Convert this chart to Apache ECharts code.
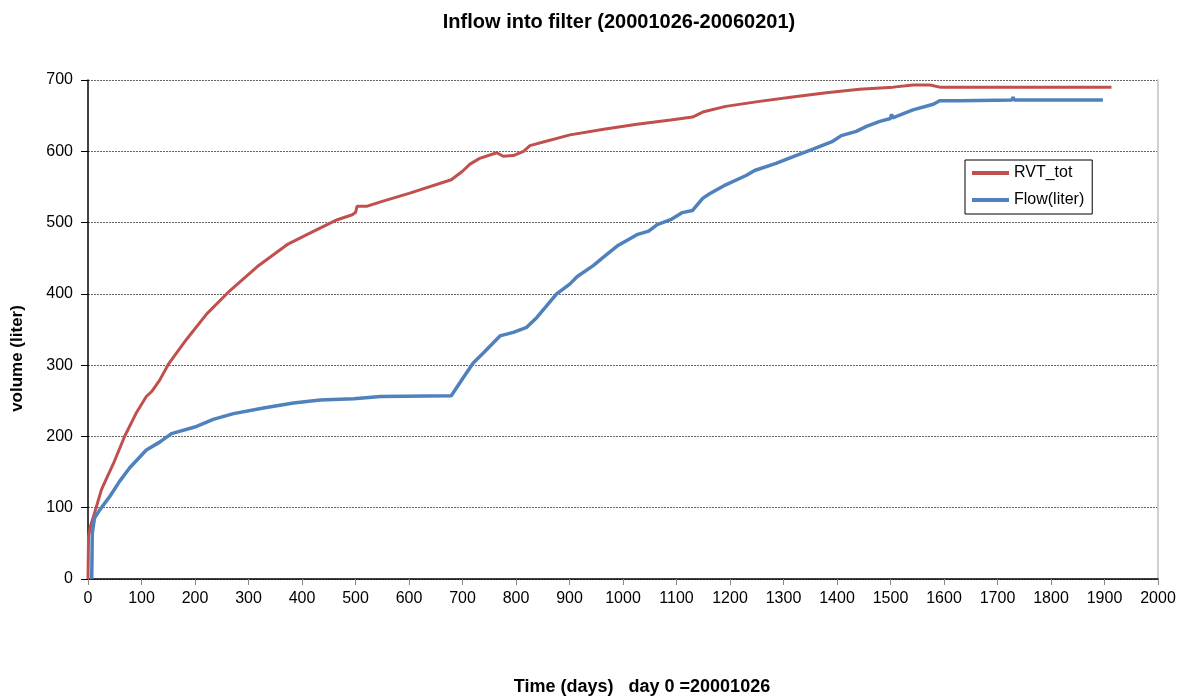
<!DOCTYPE html>
<html>
<head>
<meta charset="utf-8">
<script src="https://cdn.jsdelivr.net/npm/echarts@6/dist/echarts.min.js"></script>
<style>
html,body{margin:0;padding:0;background:#fff;}
#chart{width:1186px;height:697px;}
</style>
</head>
<body>
<div id="chart"></div>
<script>
const titleText = 'Inflow into filter (20001026-20060201)';
const xAxisName = 'Time (days)   day 0 =20001026';
const yAxisName = 'volume (liter)';
const seriesNames = ['RVT_tot', 'Flow(liter)'];

const rvtDays = [0,1,5,12,25,34,47,69,91,109,119,134,150,184,222,266,316,372,409,466,494,500,503,522,547,600,679,700,714,732,764,776,795,814,826,851,901,964,1026,1089,1130,1149,1192,1255,1317,1380,1442,1505,1542,1574,1592,1630,1913];
const rvtVals = [0,60,75,92,125,140,161,201,234,256,263,279,301,336,372,405,438,469,483,504,511,514,523,523,529,541,560,572,582,590,598,593,594,600,608,613,623,631,638,644,648,655,663,670,676,682,687,690,693,693,690,690,690];

const flowDays = [7,8,12,22,41,59,78,109,134,156,203,234,272,328,384,434,497,547,679,701,720,739,770,795,820,839,876,901,914,945,964,989,1026,1048,1064,1089,1111,1130,1149,1161,1192,1230,1246,1286,1317,1355,1392,1408,1436,1455,1480,1500,1502,1504,1542,1580,1592,1630,1727,1729,1731,1897];
const flowVals = [0,64,85,97,116,137,156,181,192,204,214,224,232,240,247,251,253,256,257,282,303,317,341,346,353,367,400,414,424,440,452,467,483,488,497,504,514,517,534,540,553,566,573,583,592,603,614,622,628,635,642,646,652,647,658,666,671,671,672,676,672,672];

const FONT = 'Liberation Sans, Arial, sans-serif';
const pair = (xs, ys) => xs.map((x, i) => [x, ys[i]]);

const chart = echarts.init(document.getElementById('chart'), null, {renderer: 'canvas'});
chart.setOption({
  animation: false,
  backgroundColor: '#ffffff',
  title: {
    text: titleText,
    left: 614,
    top: 7,
    textAlign: 'center',
    textStyle: {fontFamily: FONT, fontSize: 20, fontWeight: 'bold', color: '#000'}
  },
  grid: {left: 88, right: 28, top: 80, bottom: 118, containLabel: false, outerBoundsMode: 'none'},
  legend: {
    orient: 'vertical',
    left: 965,
    top: 160,
    padding: [3, 8, 4, 7],
    itemGap: 7,
    itemWidth: 37,
    itemHeight: 4,
    icon: 'rect',
    borderColor: '#000',
    borderWidth: 1,
    backgroundColor: '#fff',
    data: seriesNames,
    textStyle: {fontFamily: FONT, fontSize: 16, color: '#000', lineHeight: 20}
  },
  xAxis: {
    type: 'value',
    min: 0, max: 2000, interval: 100,
    name: xAxisName,
    nameLocation: 'middle',
    nameGap: 99,
    nameTextStyle: {fontFamily: FONT, fontSize: 18, fontWeight: 'bold', color: '#000', padding: [0, 0, 0, 38]},
    axisLine: {show: true, onZero: false, lineStyle: {color: '#000', width: 1.5}},
    axisTick: {show: true, length: 6, lineStyle: {color: '#888'}},
    axisLabel: {fontFamily: FONT, fontSize: 16, color: '#000', margin: 12, formatter: v => String(v)},
    splitLine: {show: false}
  },
  yAxis: [{
    type: 'value',
    min: 0, max: 700, interval: 100,
    name: yAxisName,
    nameLocation: 'middle',
    nameGap: 62,
    nameTextStyle: {fontFamily: FONT, fontSize: 17, fontWeight: 'bold', color: '#000', padding: [0, 58, 0, 0]},
    axisLine: {show: true, lineStyle: {color: '#000', width: 1.5}},
    axisTick: {show: true, length: 7, lineStyle: {color: '#000'}},
    axisLabel: {fontFamily: FONT, fontSize: 16, color: '#000', margin: 15, formatter: v => String(v)},
    splitLine: {show: true, lineStyle: {color: '#666', width: 1, type: [2, 1]}}
  }, {
    type: 'value',
    position: 'right',
    min: 0, max: 700, interval: 100,
    axisLine: {show: true, lineStyle: {color: '#d0d0d0', width: 2}},
    axisTick: {show: false},
    axisLabel: {show: false},
    splitLine: {show: false}
  }],
  series: [{
    name: seriesNames[0],
    type: 'line',
    data: pair(rvtDays, rvtVals),
    showSymbol: false,
    symbol: 'none',
    smooth: false,
    lineStyle: {color: '#C0504D', width: 3},
    itemStyle: {color: '#C0504D'},
    z: 2
  }, {
    name: seriesNames[1],
    type: 'line',
    data: pair(flowDays, flowVals),
    showSymbol: false,
    symbol: 'none',
    smooth: false,
    lineStyle: {color: '#4F81BD', width: 3.5},
    itemStyle: {color: '#4F81BD'},
    z: 3
  }]
});
</script>
</body>
</html>
